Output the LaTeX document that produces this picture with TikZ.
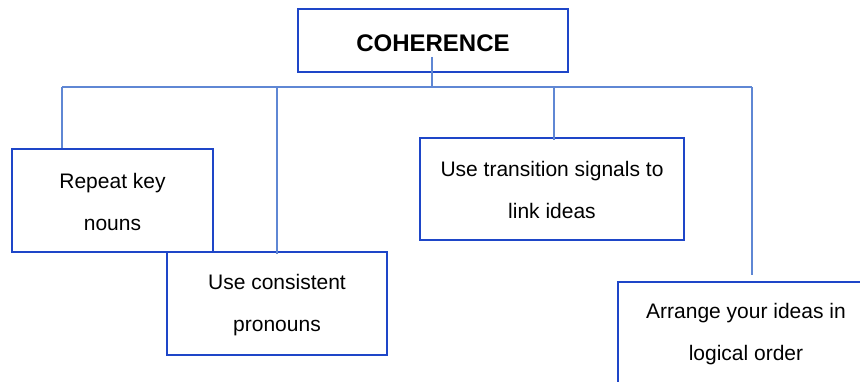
\documentclass[tikz,border=0pt]{standalone}
\usepackage{fontspec}
\setmainfont{Liberation Sans}
\definecolor{boxblue}{RGB}{30,70,200}
\definecolor{lineblue}{RGB}{95,135,212}
\begin{document}
\begin{tikzpicture}[x=1pt,y=-1pt,
  box/.style={draw=boxblue,line width=2pt,fill=white,inner sep=0pt},
  txt/.style={inner sep=0pt,align=center,font=\fontsize{21}{42}\selectfont},
  conn/.style={draw=lineblue,line width=1.3pt}]
\useasboundingbox (0,0) rectangle (860,382);
\clip (0,0) rectangle (860,382);
\node[box,minimum width=270pt,minimum height=63pt] (top) at (433,40.5) {};
\node[txt,font=\bfseries\fontsize{24}{28}\selectfont] (topt) at ([yshift=-2.5pt]top.center) {COHERENCE};
\node[box,minimum width=201pt,minimum height=103pt] (n1) at (112.5,200.5) {};
\node[txt] (n1t) at ([yshift=-1.5pt]n1.center) {Repeat key\\nouns};
\node[box,minimum width=220pt,minimum height=103pt] (n2) at (277,303.5) {};
\node[txt] (n2t) at ([yshift=-1.5pt]n2.center) {Use consistent\\pronouns};
\node[box,minimum width=264pt,minimum height=102pt] (n3) at (552,189) {};
\node[txt] (n3t) at ([yshift=-1pt]n3.center) {Use transition signals to\\link ideas};
\node[box,minimum width=256pt,minimum height=102pt] (n4) at (746,333) {};
\node[txt] (n4t) at ([yshift=-1pt]n4.center) {Arrange your ideas in\\logical order};
\coordinate (busL) at (62,87);
\coordinate (busR) at (752,87);
\coordinate (s) at (432,57);
\coordinate (e4) at (752,275);
\draw[conn] (busL) -- (busR);
\draw[conn] (s) -- (s |- busL);
\draw[conn] (busL) -- (busL |- n1.north);
\draw[conn] (n2.north |- busL) -- ([yshift=-3pt]n2.north);
\draw[conn] (554,87) -- (554,140);
\draw[conn] (busR) -- (e4);
\end{tikzpicture}
\end{document}
